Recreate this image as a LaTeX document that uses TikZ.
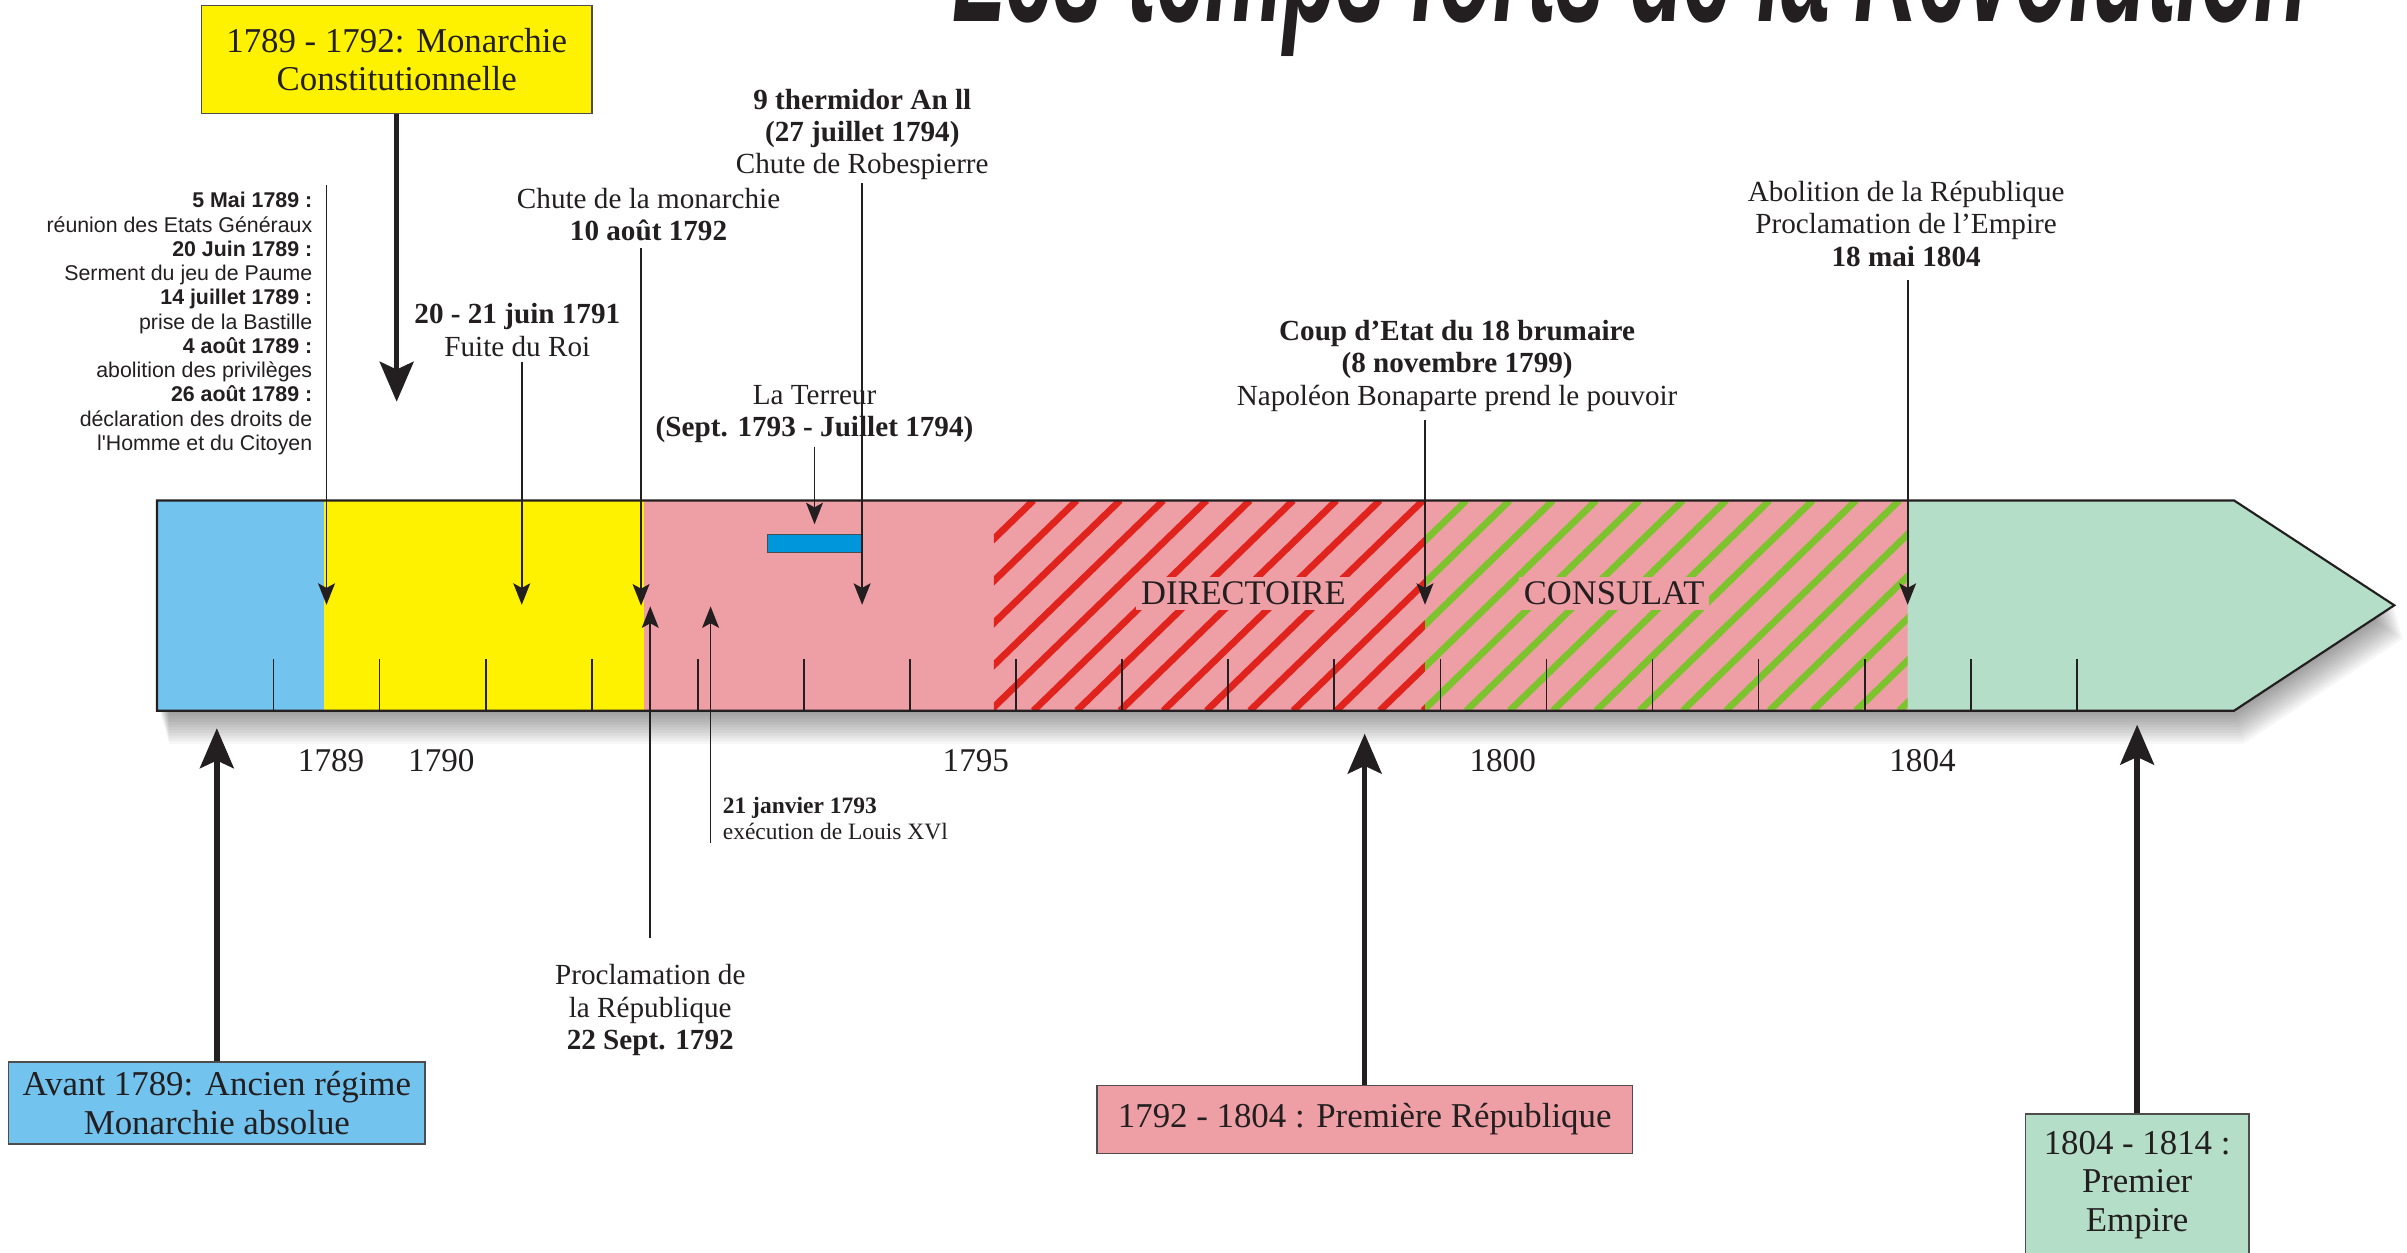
\documentclass[tikz,border=0pt]{standalone}
\usepackage{fontspec}
\setmainfont{Liberation Serif}
\newfontfamily\sansf{Liberation Sans}
\newfontfamily\titlef[FakeStretch=0.52]{Liberation Sans}
\usetikzlibrary{arrows.meta}
\definecolor{cblue}{RGB}{115,195,239}
\definecolor{cyellow}{RGB}{255,242,0}
\definecolor{cpink}{RGB}{238,159,165}
\definecolor{cred}{RGB}{225,35,30}
\definecolor{cgreen}{RGB}{125,195,45}
\definecolor{cmint}{RGB}{180,222,200}
\definecolor{cdblue}{RGB}{0,150,220}
\definecolor{ink}{RGB}{35,31,32}
\begin{document}
\begin{tikzpicture}[x=1pt,y=-1pt,
  thinarrow/.style={draw=ink,line width=1.1pt,-{Stealth[length=14pt,width=11pt,inset=3pt]}},
  thickarrow/.style={draw=ink,line width=3.6pt,-{Stealth[length=26pt,width=22pt,inset=5pt]}},
  lbl/.style={text=ink,inner sep=0pt,align=center,font=\fontsize{19}{21}\selectfont},
  boxtxt/.style={text=ink,draw=ink!80,line width=1pt,inner sep=0pt,align=center,font=\fontsize{22.7}{25.2}\selectfont},
  yearlbl/.style={text=ink,inner sep=0pt,font=\fontsize{21.6}{24}\selectfont},
  period/.style={text=ink,fill=cpink,inner sep=3pt,font=\fontsize{22.5}{25}\selectfont},
  yeartick/.style={draw=ink,line width=1.1pt},
  hatchline/.style={line width=4.4pt}
]
\useasboundingbox (0,0) rectangle (1568,816);
\clip (0,0) rectangle (1568,816);
\fill[white] (0,0) rectangle (1568,816);

% title (only its lower part is visible)
\node[anchor=base west,inner sep=0pt,text=ink,font=\titlef\bfseries\itshape\fontsize{110}{110}\selectfont] (title) at (620,14) {Les temps forts de la Révolution};

% shadow of the bar
\foreach \s in {1,...,12}
  \fill[black,opacity=0.035,shift={(0.5*\s,1.8*\s)}] (104,326) -- (1455.3,326) -- (1559.7,394.3) -- (1455.3,463) -- (104,463) -- cycle;

% coloured periods
\fill[cblue] (102.3,326) rectangle (211.1,463);
\fill[cyellow] (211.1,326) rectangle (419.4,463);
\fill[cpink] (419.4,326) rectangle (1242.7,463);
\fill[cmint] (1242.7,326) -- (1455.3,326) -- (1559.7,394.3) -- (1455.3,463) -- (1242.7,463) -- cycle;

% hatching
\begin{scope}
  \clip (647.5,326) rectangle (928.3,463);
  \foreach \k in {-6,...,10}
    \draw[cred,hatchline] (673.2+28.2*\k,463) -- ++(141,-137);
\end{scope}
\begin{scope}
  \clip (928.3,326) rectangle (1242.7,463);
  \foreach \k in {3,...,21}
    \draw[cgreen,hatchline] (673.2+28.2*\k,463) -- ++(141,-137);
\end{scope}

\node[period] (directoire) at (810,386.5) {DIRECTOIRE};
\node[period] (consulat) at (1051.5,386.5) {CONSULAT};

% ticks
\foreach \i in {0,...,17}
  \draw[yeartick] (178.2+69.1*\i,463) -- ++(0,-34);

% bar outline
\draw[ink,line width=1.4pt,line join=miter] (102.3,326) -- (1455.3,326) -- (1559.7,394.3) -- (1455.3,463) -- (102.3,463) -- cycle;

% La Terreur bar
\node[draw=ink!80,line width=0.8pt,fill=cdblue,minimum width=61pt,minimum height=11.8pt,inner sep=0pt] (terreurbar) at (530.7,354) {};

% years
\node[yearlbl] (y1789) at (215.7,495.6) {1789};
\node[yearlbl] (y1790) at (287.5,495.6) {1790};
\node[yearlbl] (y1795) at (635.7,495.6) {1795};
\node[yearlbl] (y1800) at (978.9,495.6) {1800};
\node[yearlbl] (y1804) at (1252.4,495.6) {1804};

% boxes
\node[boxtxt,fill=cyellow,minimum width=254.2pt,minimum height=70.1pt] (monarchie) at (258.4,38.75) {1789 - 1792: Monarchie\\Constitutionnelle};
\node[boxtxt,fill=cblue,minimum width=271.5pt,minimum height=53.5pt] (avant) at (141.25,718.55) {Avant 1789: Ancien régime\\Monarchie absolue};
\node[boxtxt,fill=cpink,minimum width=349pt,minimum height=44.1pt] (republique) at (889,729.25) {1792 - 1804 : Première République};
\node[draw=ink!80,line width=1pt,fill=cmint,minimum width=145.5pt,minimum height=120pt,anchor=north,inner sep=0pt] (empire) at (1392.2,725.3) {};
\node[lbl,font=\fontsize{22.7}{25.2}\selectfont] (empiretxt) at (1392.2,772) {1804 - 1814 :\\Premier\\Empire};

% thick arrows
\coordinate (monarchieTip) at (258.4,261.7);
\coordinate (avantTip) at (141.25,474.4);
\coordinate (republiqueTip) at (889,477.9);
\coordinate (empireTip) at (1392.2,472.1);
\draw[thickarrow] (monarchie.south) -- (monarchieTip);
\draw[thickarrow] (avant.north) -- (avantTip);
\draw[thickarrow] (republique.north) -- (republiqueTip);
\draw[thickarrow] (empire.north) -- (empireTip);

% event labels
\node[lbl,align=right,anchor=east,font=\sansf\fontsize{13.9}{15.8}\selectfont] (etats) at (203.6,210.8)
  {\textbf{5 Mai 1789 :}\\réunion des Etats Généraux\\\textbf{20 Juin 1789 :}\\Serment du jeu de Paume\\\textbf{14 juillet 1789 :}\\prise de la Bastille\\\textbf{4 août 1789 :}\\abolition des privilèges\\\textbf{26 août 1789 :}\\déclaration des droits de\\l'Homme et du Citoyen};
\node[lbl] (thermidor) at (561.7,87.6) {\textbf{9 thermidor An ll}\\\textbf{(27 juillet 1794)}\\Chute de Robespierre};
\node[lbl] (chute) at (422.5,140) {Chute de la monarchie\\\textbf{10 août 1792}};
\node[lbl] (fuite) at (337,215) {\textbf{20 - 21 juin 1791}\\Fuite du Roi};
\node[lbl] (terreur) at (530.6,269.8) {La Terreur\\\textbf{(Sept. 1793 - Juillet 1794)}};
\node[lbl] (abolition) at (1241.7,145.8) {Abolition de la République\\Proclamation de l’Empire\\\textbf{18 mai 1804}};
\node[lbl] (coup) at (949.2,238.4) {\textbf{Coup d’Etat du 18 brumaire}\\\textbf{(8 novembre 1799)}\\Napoléon Bonaparte prend le pouvoir};
\node[lbl] (proclamation) at (423.6,658) {Proclamation de\\la République\\\textbf{22 Sept. 1792}};
\node[lbl,align=left,anchor=west,font=\fontsize{15.3}{16.8}\selectfont] (louis) at (470.7,533.4) {\textbf{21 janvier 1793}\\exécution de Louis XVl};

% thin arrows
\coordinate (etatsS) at (212.7,120.5);   \coordinate (etatsT) at (212.7,394);
\coordinate (fuiteS) at (339.9,236);     \coordinate (fuiteT) at (339.9,394);
\coordinate (chuteS) at (417.6,161.8);   \coordinate (chuteT) at (417.6,394.5);
\coordinate (terreurS) at (530.6,291);   \coordinate (terreurT) at (530.6,341.5);
\coordinate (thermS) at (561.6,119.4);   \coordinate (thermT) at (561.6,394);
\coordinate (coupS) at (928.3,273.6);    \coordinate (coupT) at (928.3,394);
\coordinate (abolS) at (1242.7,182.5);   \coordinate (abolT) at (1242.7,394);
\coordinate (proclS) at (423.6,611);     \coordinate (proclT) at (423.6,395);
\coordinate (louisS) at (462.9,549);     \coordinate (louisT) at (462.9,395);
\draw[thinarrow] (etatsS) -- (etatsT);
\draw[thinarrow] (fuiteS) -- (fuiteT);
\draw[thinarrow] (chuteS) -- (chuteT);
\draw[thinarrow] (terreurS) -- (terreurT);
\draw[thinarrow] (thermS) -- (thermT);
\draw[thinarrow] (coupS) -- (coupT);
\draw[thinarrow] (abolS) -- (abolT);
\draw[thinarrow] (proclS) -- (proclT);
\draw[thinarrow] (louisS) -- (louisT);
\end{tikzpicture}
\end{document}
